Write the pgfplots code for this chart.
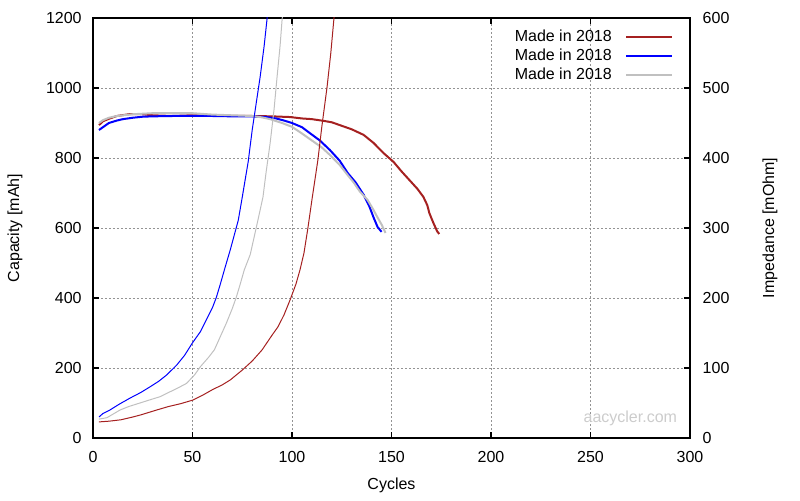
\documentclass[border=0pt]{standalone}
\usepackage{pgfplots}
\pgfplotsset{compat=1.18}
\usepackage{fontspec}
\setmainfont{Liberation Sans}
\definecolor{cred}{RGB}{165,32,32}
\definecolor{cblue}{RGB}{0,0,255}
\definecolor{cgray}{RGB}{192,192,192}
\begin{document}
\begin{tikzpicture}
\path[use as bounding box] (0,0) rectangle (600pt,375pt);
\pgfplotsset{
  every axis/.append style={font=\fontsize{12}{14}\selectfont},
  /pgf/number format/assume math mode=true,
  /pgf/number format/1000 sep={},
}
\begin{axis}[
  at={(69.75pt,46.5pt)}, anchor=south west, scale only axis,
  width=447.75pt, height=315pt,
  xmin=0, xmax=300, ymin=0, ymax=1200,
  xtick={0,50,...,300}, ytick={0,200,...,1200},
  ytick pos=left,
  tick align=inside,
  major tick length=4.5pt,
  grid=major, grid style={dash pattern=on 1.5pt off 1.5pt, gray!85, line width=0.6pt},
  axis line style={black, line width=0.8pt},
  tick style={black, line width=0.8pt},
  xlabel={Cycles}, ylabel={Capacity [mAh]},
  xlabel style={at={(axis description cs:0.5,-0.1119)}, anchor=center},
  ylabel style={at={(axis description cs:-0.1307,0.5)}, anchor=center},
  yticklabel style={xshift=-5pt},
  xticklabel style={yshift=-6.5pt},
  legend style={draw=none, fill=none, at={(rel axis cs:0.978,0.985)}, anchor=north east, row sep=0pt, column sep=8pt, font=\fontsize{12}{14}\selectfont},
  legend cell align=right,
  legend plot pos=right,
  legend image code/.code={\draw[#1] (0cm,0cm) -- (1.2cm,0cm);},
]
\addplot[cred, line width=1.5pt] coordinates {
(3,894) (5,905) (8,912) (12,920) (18,925) (25,925) (30,922) (40,920) (50,922) (60,920) (70,920) (80,920) (90,919) (99,917) (105,913) (110,911) (116,906) (120,902) (124,894) (130,882) (136,866) (141,843) (146,814) (151,789) (155,762) (159,737) (163,712) (166,689) (168,665) (169,643) (171,615) (173,590) (174,583)};
\addlegendentry{Made in 2018}
\addplot[cblue, line width=1.5pt] coordinates {
(3,880) (5,888) (8,900) (12,907) (15,911) (20,915) (25,918) (30,919) (40,920) (50,920) (60,920) (70,919) (80,919) (87,917) (92,913) (96,907) (100,900) (105,888) (109,871) (114,850) (119,823) (124,792) (128,757) (132,730) (136,695) (139,660) (141,630) (143,603) (145,589)};
\addlegendentry{Made in 2018}
\addplot[cgray, line width=1.5pt] coordinates {
(3,900) (5,908) (8,915) (12,920) (20,925) (30,928) (40,928) (50,928) (55,926) (60,924) (70,922) (80,920) (85,916) (89,911) (95,900) (100,889) (105,870) (110,850) (115,830) (119,809) (124,780) (128,751) (131,730) (134,705) (138,680) (141,651) (143,630) (145,610) (147,586)};
\addlegendentry{Made in 2018}
\node[text=black!20, font=\fontsize{12}{14}\selectfont] at (axis cs:270,57) {aacycler.com};
\end{axis}
\begin{axis}[
  at={(69.75pt,46.5pt)}, anchor=south west, scale only axis,
  width=447.75pt, height=315pt,
  xmin=0, xmax=300, ymin=0, ymax=600,
  axis x line=none,
  axis y line*=right,
  ytick={0,100,...,600},
  tick align=inside,
  major tick length=4.5pt,
  axis line style={black, line width=0.8pt, -},
  tick style={black, line width=0.8pt},
  ylabel={Impedance [mOhm]},
  ylabel style={at={(axis description cs:1.134,0.5)}, anchor=center},
  yticklabel style={xshift=6pt},
]
\addplot[cred, line width=0.75pt] coordinates {
(3,23) (8,24) (14,26) (20,30) (24,33) (32,40) (38,45) (44,49) (50,54) (55,61) (60,69) (65,76) (69,83) (75,97) (80,110) (85,126) (90,147) (93,159) (96,176) (99,197) (102,220) (104,240) (106,264) (108,300) (110,340) (113,397) (115,445) (117.6,501) (119.5,550) (121,597) (122,630)};
\addplot[cblue, line width=0.75pt] coordinates {
(3,30) (5,35) (8.5,40) (13,48) (18.6,57) (24,65) (28.6,73) (33,81) (37,90) (42,104) (46,118) (50,136) (54,152) (57,169) (60,186) (62,201) (64,220) (66,240) (69,269) (71,290) (73,311) (75,344) (78,395) (80,440) (82,478) (84,516) (86,560) (87.4,597) (88.5,630)};
\addplot[cgray, line width=0.75pt] coordinates {
(3,27) (7,29) (10,34) (13.6,40) (18,45) (23.6,50) (28,54) (33.7,59) (38.7,66) (43,72) (47,78) (51,90) (54,102) (58,115) (61,126) (64,145) (67,164) (70,185) (72,201) (74,220) (76,240) (79,262) (82,300) (85.4,344) (87,380) (89,421) (91,470) (92.5,516) (94,560) (95,597) (96,630)};
\end{axis}
\end{tikzpicture}
\end{document}
